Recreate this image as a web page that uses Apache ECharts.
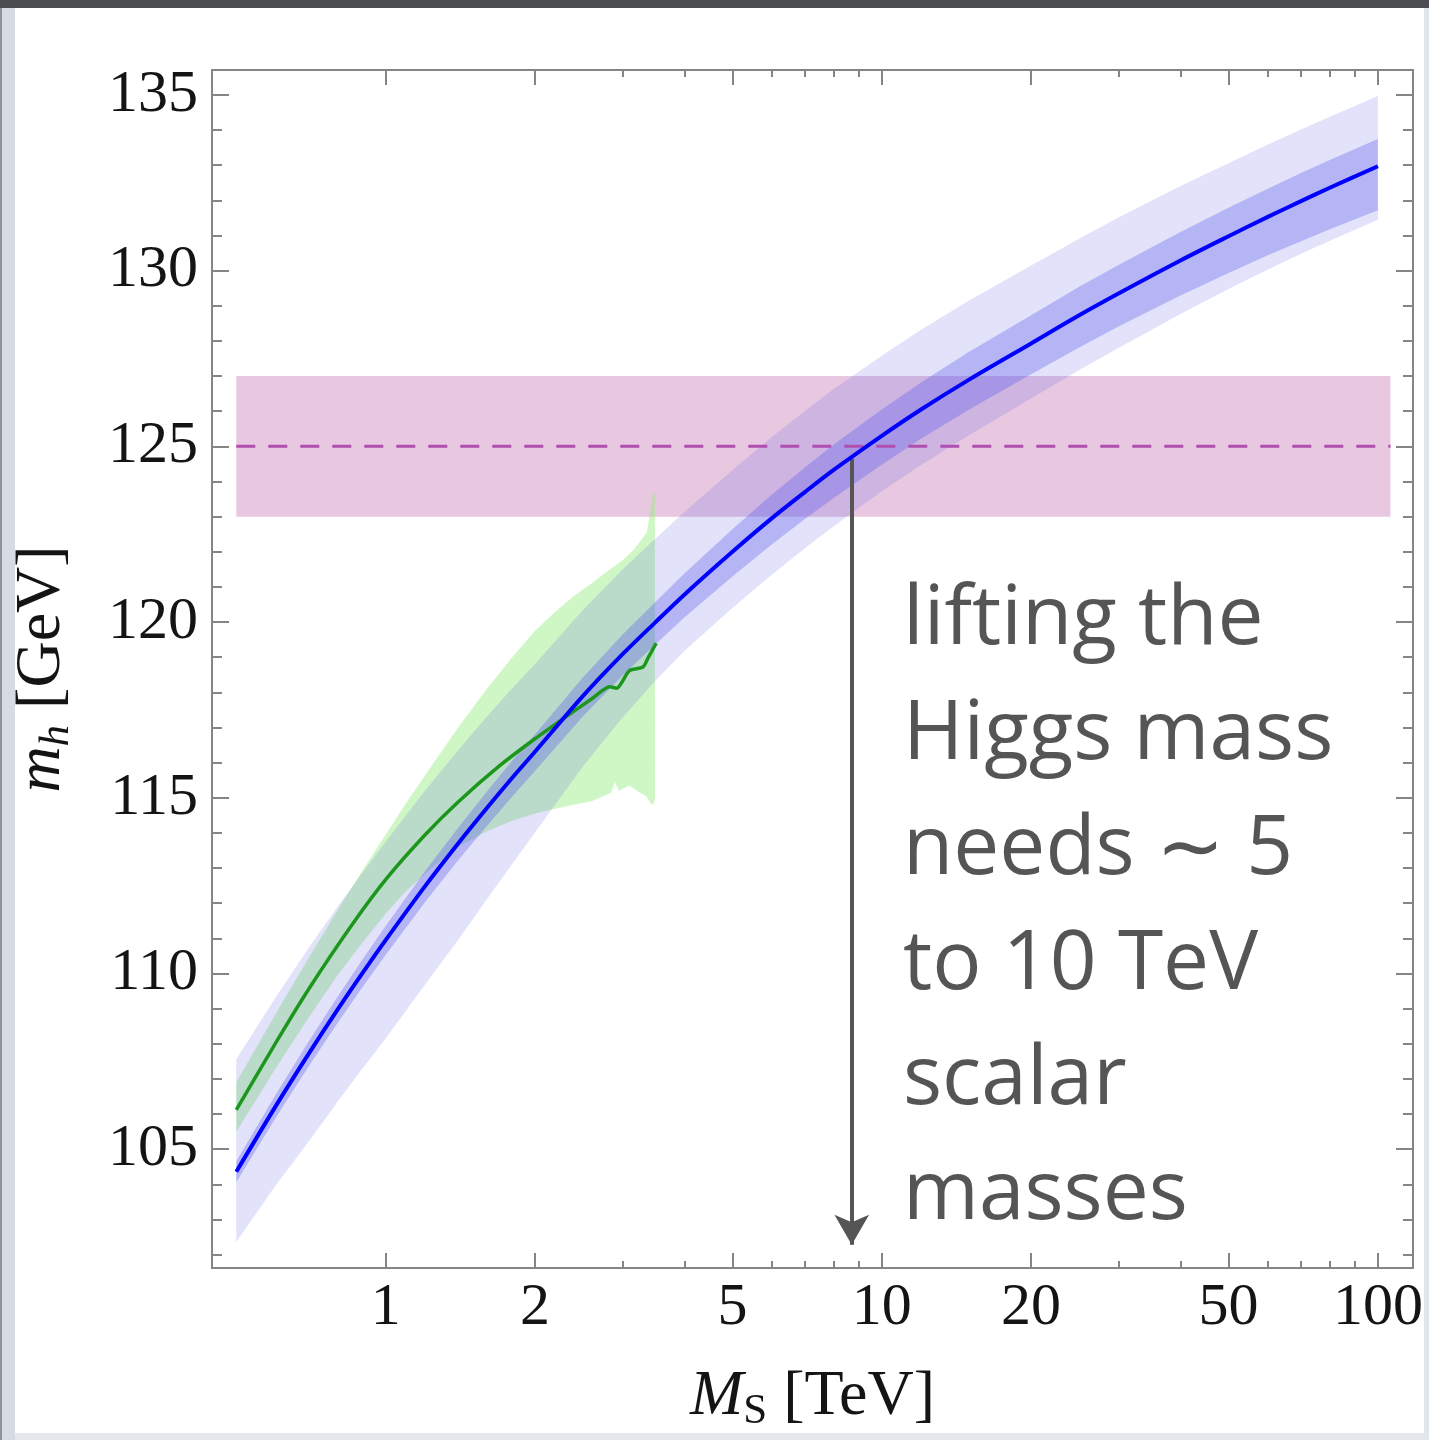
<!DOCTYPE html>
<html><head><meta charset="utf-8">
<script src="https://cdn.jsdelivr.net/npm/echarts/dist/echarts.min.js"></script>
<style>html,body{margin:0;padding:0;background:#fff}#c{width:1429px;height:1440px}</style>
</head><body><div id="c"></div>
<script>
// ---------- axis ticks ----------
const xMajorTicks = [1, 2, 5, 10, 20, 50, 100];
const xMinorTicks = [3, 4, 6, 7, 8, 9, 30, 40, 60, 70, 80, 90];
const yMajorTicks = [105, 110, 115, 120, 125, 130, 135];
const yMinorTicks = [102, 103, 104, 106, 107, 108, 109, 111, 112, 113, 114, 116, 117, 118, 119,
                     121, 122, 123, 124, 126, 127, 128, 129, 131, 132, 133, 134];
const xRange = [0.4467, 117.7];   // M_S [TeV]
const yRange = [101.62, 135.71];  // m_h [GeV]

// ---------- blue (prediction) ----------
const blueX       = [0.5, 0.6, 0.7, 0.8, 0.9, 1, 1.2, 1.4, 1.6, 1.8, 2, 2.5, 3, 3.5, 4, 5, 6, 7, 8, 10, 12, 15, 20, 25, 30, 40, 50, 60, 70, 80, 100];
const blueMid     = [104.36, 106.22, 107.72, 108.97, 110.03, 110.95, 112.48, 113.70, 114.71, 115.57, 116.31, 117.90, 119.08, 120.00, 120.78, 122.00, 122.95, 123.70, 124.33, 125.30, 126.05, 126.90, 127.93, 128.73, 129.35, 130.29, 130.98, 131.53, 131.98, 132.36, 132.97];
const blueInnerHi = [104.66, 106.55, 108.07, 109.34, 110.42, 111.35, 112.91, 114.15, 115.18, 116.06, 116.81, 118.43, 119.64, 120.58, 121.38, 122.64, 123.62, 124.40, 125.05, 126.05, 126.82, 127.69, 128.73, 129.54, 130.16, 131.10, 131.79, 132.33, 132.78, 133.15, 133.75];
const blueInnerLo = [104.06, 105.89, 107.36, 108.59, 109.63, 110.53, 112.03, 113.22, 114.20, 115.04, 115.76, 117.32, 118.47, 119.37, 120.13, 121.30, 122.21, 122.93, 123.53, 124.48, 125.22, 126.05, 127.05, 127.81, 128.41, 129.29, 129.93, 130.44, 130.84, 131.18, 131.72];
const blueOuterHi = [107.56, 109.32, 110.73, 111.90, 112.89, 113.75, 115.20, 116.35, 117.31, 118.12, 118.81, 120.35, 121.49, 122.38, 123.13, 124.33, 125.27, 126.01, 126.63, 127.58, 128.32, 129.15, 130.15, 130.91, 131.51, 132.41, 133.06, 133.59, 134.02, 134.38, 134.97];
const blueOuterLo = [102.36, 103.97, 105.22, 106.35, 107.31, 108.15, 109.68, 110.95, 112.11, 113.12, 114.01, 115.90, 117.28, 118.34, 119.18, 120.40, 121.35, 122.10, 122.73, 123.72, 124.47, 125.32, 126.36, 127.17, 127.80, 128.77, 129.48, 130.03, 130.48, 130.85, 131.45];

// ---------- green (earlier computation) ----------
const greenX   = [0.5, 0.6, 0.7, 0.85, 1, 1.2, 1.4, 1.7, 2.0, 2.3, 2.6, 2.83, 2.92, 3.1, 3.3, 3.38, 3.51];
const greenMid = [106.12, 108.02, 109.56, 111.33, 112.67, 113.94, 114.88, 115.92, 116.68, 117.29, 117.81, 118.16, 118.12, 118.62, 118.72, 118.98, 119.4];
const greenHiX = [0.5, 0.6, 0.7, 0.8, 0.9, 1.0, 1.1, 1.25, 1.4, 1.6, 1.8, 2.0, 2.2, 2.4, 2.6, 2.8, 3.0, 3.16, 3.3, 3.36, 3.4, 3.44, 3.47, 3.49];
const greenHi  = [106.9, 108.85, 110.45, 111.8, 112.95, 113.95, 114.85, 116.0, 117.0, 118.1, 119.0, 119.75, 120.3, 120.75, 121.1, 121.45, 121.75, 122.05, 122.4, 122.55, 123.0, 123.5, 123.72, 123.6];
const greenLoX = [0.5, 0.6, 0.7, 0.8, 0.9, 1.0, 1.1, 1.25, 1.4, 1.6, 1.8, 2.0, 2.3, 2.6, 2.75, 2.85, 2.9, 2.95, 3.1, 3.25, 3.35, 3.42, 3.46, 3.49];
const greenLo  = [105.5, 107.3, 108.75, 109.95, 110.9, 111.7, 112.35, 113.05, 113.6, 114.05, 114.35, 114.55, 114.75, 114.9, 115.05, 115.15, 115.45, 115.2, 115.35, 115.15, 115.05, 114.85, 114.8, 114.95];

// ---------- measured Higgs mass band ----------
const higgsX   = [0.5, 106];
const higgsMid = 125;
const higgsLo  = 123;
const higgsHi  = 127;

// ---------- arrow ----------
const arrowX = 8.7;
const arrowY = [124.65, 102.28];

const annotation = 'lifting the\nHiggs mass\nneeds \u223C 5\nto 10 TeV\nscalar\nmasses';

// ----------------------------------------------------------
const L = Math.log10;
const frameColor = '#858585';
const serif = '"Liberation Serif", "Times New Roman", serif';

function band(xs, lo, hi, fill, z, xsLo) {
  const xl = xsLo || xs;
  return {
    type: 'custom', z: z, silent: true, xAxisIndex: 0, yAxisIndex: 0,
    data: [[0, 110]], encode: {x: 0, y: 1}, clip: true,
    renderItem: function (params, api) {
      const pts = [];
      for (let i = 0; i < xs.length; i++) pts.push(api.coord([L(xs[i]), hi[i]]));
      for (let i = xl.length - 1; i >= 0; i--) pts.push(api.coord([L(xl[i]), lo[i]]));
      return {type: 'polygon', shape: {points: pts}, style: {fill: fill}};
    }
  };
}

function xAxisDef(pos, ticks, len, showLine, labels) {
  return {
    type: 'value', gridIndex: 0, position: pos, min: L(xRange[0]), max: L(xRange[1]),
    splitLine: {show: false},
    axisLine: {show: showLine, onZero: false, lineStyle: {color: frameColor, width: 2}},
    axisTick: {show: true, inside: true, length: len, customValues: ticks.map(L),
               lineStyle: {color: frameColor, width: 2}},
    axisLabel: labels ? {
      show: true, customValues: ticks.map(L), margin: 10,
      formatter: v => String(Math.round(Math.pow(10, v))),
      fontFamily: serif, fontSize: 60, color: '#141414'
    } : {show: false}
  };
}
function yAxisDef(pos, ticks, len, showLine, labels) {
  return {
    type: 'value', gridIndex: 0, position: pos, min: yRange[0], max: yRange[1],
    splitLine: {show: false},
    axisLine: {show: showLine, onZero: false, lineStyle: {color: frameColor, width: 2}},
    axisTick: {show: true, inside: true, length: len, customValues: ticks,
               lineStyle: {color: frameColor, width: 2}},
    axisLabel: labels ? {
      show: true, customValues: ticks, margin: 14,
      fontFamily: serif, fontSize: 60, color: '#141414'
    } : {show: false}
  };
}

const xMain = xAxisDef('bottom', xMajorTicks, 15, true, true);
xMain.name = '{i|M}{s|S}{n| [TeV]}';
xMain.nameLocation = 'middle';
xMain.nameGap = 93;
xMain.nameTextStyle = {
  rich: {
    i: {fontFamily: serif, fontStyle: 'italic', fontSize: 64, lineHeight: 72, color: '#141414'},
    s: {fontFamily: serif, fontSize: 43, lineHeight: 28, verticalAlign: 'bottom', color: '#141414'},
    n: {fontFamily: serif, fontSize: 64, lineHeight: 72, color: '#141414'}
  }
};
const yMain = yAxisDef('left', yMajorTicks, 17, true, true);
yMain.name = '{i|m}{s|h}{n| [GeV]}';
yMain.nameLocation = 'middle';
yMain.nameRotate = 90;
yMain.nameGap = 134;
yMain.nameTextStyle = {
  rich: {
    i: {fontFamily: serif, fontStyle: 'italic', fontSize: 64, lineHeight: 72, color: '#141414'},
    s: {fontFamily: serif, fontStyle: 'italic', fontSize: 43, lineHeight: 28, verticalAlign: 'bottom', color: '#141414'},
    n: {fontFamily: serif, fontSize: 64, lineHeight: 72, color: '#141414'}
  }
};

const option = {
  animation: false,
  backgroundColor: '#ffffff',
  grid: {left: 212, top: 70, width: 1201, height: 1198, containLabel: false, outerBoundsMode: 'none'},
  xAxis: [
    xMain,
    xAxisDef('bottom', xMinorTicks, 7, false, false),
    xAxisDef('top', xMajorTicks, 15, true, false),
    xAxisDef('top', xMinorTicks, 7, false, false)
  ],
  yAxis: [
    yMain,
    yAxisDef('left', yMinorTicks, 10, false, false),
    yAxisDef('right', yMajorTicks, 17, true, false),
    yAxisDef('right', yMinorTicks, 10, false, false)
  ],
  graphic: [
    {type: 'rect', shape: {x: 0, y: 0, width: 1429, height: 8}, style: {fill: '#4b4d51'}, z: 100},
    {type: 'rect', shape: {x: 0, y: 8, width: 15, height: 1432}, style: {fill: '#d6dce2'}, z: 100},
    {type: 'rect', shape: {x: 0, y: 8, width: 2, height: 1432}, style: {fill: '#8e9398'}, z: 100},
    {type: 'rect', shape: {x: 1424, y: 8, width: 5, height: 1432}, style: {fill: '#e2e6ea'}, z: 100},
    {type: 'rect', shape: {x: 15, y: 1433, width: 1414, height: 7}, style: {fill: '#e4e7eb'}, z: 100},
    {type: 'text', left: 903, top: 563, z: 50,
     style: {text: annotation, font: '82px "Open Sans"', fill: '#555555', lineHeight: 115}}
  ],
  series: [
    band(higgsX, higgsX.map(() => higgsLo), higgsX.map(() => higgsHi), 'rgba(200,123,183,0.42)', 1),
    band(greenHiX, greenLo, greenHi, 'rgba(150,238,128,0.46)', 2, greenLoX),
    band(blueX, blueOuterLo, blueOuterHi, 'rgba(80,80,222,0.166)', 3),
    band(blueX, blueInnerLo, blueInnerHi, 'rgba(80,80,240,0.31)', 4),
    {
      type: 'line', z: 5, silent: true, showSymbol: false, xAxisIndex: 0, yAxisIndex: 0,
      data: higgsX.map(x => [L(x), higgsMid]),
      lineStyle: {color: '#b04fb0', width: 3, type: [19, 13]}
    },
    {
      type: 'line', z: 6, silent: true, showSymbol: false, smooth: 0.25, xAxisIndex: 0, yAxisIndex: 0,
      data: greenX.map((x, i) => [L(x), greenMid[i]]),
      lineStyle: {color: '#1c961c', width: 3.5}
    },
    {
      type: 'line', z: 7, silent: true, showSymbol: false, smooth: 0.3, xAxisIndex: 0, yAxisIndex: 0,
      data: blueX.map((x, i) => [L(x), blueMid[i]]),
      lineStyle: {color: '#0000ff', width: 4}
    },
    {
      type: 'line', z: 8, silent: true, showSymbol: false, xAxisIndex: 0, yAxisIndex: 0,
      data: [],
      markLine: {
        silent: true, animation: false,
        symbol: ['none', 'arrow'], symbolSize: [26, 30],
        label: {show: false},
        lineStyle: {color: '#555555', width: 4, type: 'solid'},
        data: [[{coord: [L(arrowX), arrowY[0]]}, {coord: [L(arrowX), arrowY[1]]}]]
      }
    }
  ]
};

const chart = echarts.init(document.getElementById('c'), null, {renderer: 'canvas'});
chart.setOption(option);
</script>
</body></html>
